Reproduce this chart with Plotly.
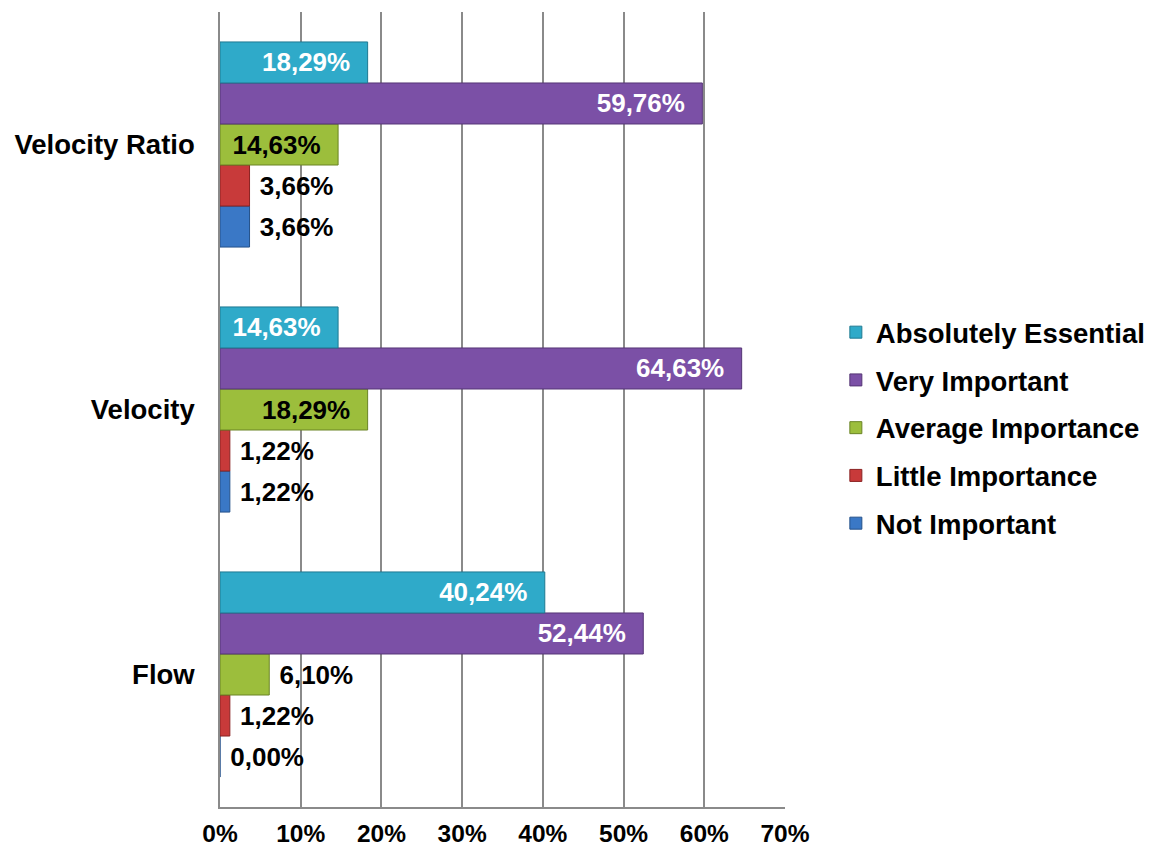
import plotly.graph_objects as go

categories = ["Flow", "Velocity", "Velocity Ratio"]
series_names = ["Not Important", "Little Importance", "Average Importance",
                "Very Important", "Absolutely Essential"]
not_important = [0.00, 1.22, 3.66]
little_importance = [1.22, 1.22, 3.66]
average_importance = [6.10, 18.29, 14.63]
very_important = [52.44, 64.63, 59.76]
absolutely_essential = [40.24, 14.63, 18.29]
x_ticks = [0, 10, 20, 30, 40, 50, 60, 70]
x_tick_labels = ["0%", "10%", "20%", "30%", "40%", "50%", "60%", "70%"]

values = [not_important, little_importance, average_importance,
          very_important, absolutely_essential]
colors = ["#3A78C6", "#C83A3A", "#9CBE3C", "#7B50A6", "#2FAAC9"]
lines = ["#24518A", "#8A2222", "#6A8425", "#553575", "#1F7A92"]
ranks = [5, 4, 3, 2, 1]

FONT = "Liberation Sans, Arial, sans-serif"
NB = "\u00a0"

def fmt(v):
    return f"{v:.2f}".replace(".", ",") + "%"

fig = go.Figure()
for i, (name, vals) in enumerate(zip(series_names, values)):
    if i >= 3:
        pos = ["inside"] * len(vals)
        tcol = "white"
    elif i == 2:
        pos = ["inside" if v > 10 else "outside" for v in vals]
        tcol = "black"
    else:
        pos = ["outside"] * len(vals)
        tcol = "black"
    texts = [(fmt(v) + NB + NB) if p == "inside" else (NB + fmt(v))
             for v, p in zip(vals, pos)]
    fig.add_trace(go.Bar(
        y=categories, x=vals, name=name, orientation="h",
        marker=dict(color=colors[i], line=dict(color=lines[i], width=1)),
        text=texts, textposition=pos,
        insidetextanchor="end",
        insidetextfont=dict(color=tcol, size=26, family=FONT, weight="bold"),
        outsidetextfont=dict(color="black", size=26, family=FONT, weight="bold"),
        constraintext="none", cliponaxis=False,
        legendgroup=name, legendrank=ranks[i],
    ))

fig.update_layout(
    width=1152, height=851,
    margin=dict(l=220, r=367, t=12, b=44, autoexpand=False),
    barmode="group", bargap=0.226, bargroupgap=0,
    plot_bgcolor="white", paper_bgcolor="white",
    font=dict(family=FONT, size=27, color="black", weight="bold"),
    showlegend=True,
    legend=dict(
        x=1.09, y=0.477, xanchor="left", yanchor="middle",
        traceorder="grouped", tracegroupgap=9,
        font=dict(size=27.5, family=FONT, color="black", weight="bold"),
        itemwidth=30,
    ),
    xaxis=dict(
        range=[0, 70], tickvals=x_ticks, ticktext=x_tick_labels,
        showgrid=True, gridcolor="#8A8A8A", gridwidth=1.5,
        zeroline=False, showline=True, linecolor="#8A8A8A", linewidth=1.5,
        ticks="", ticklabelstandoff=4, automargin=False,
        tickfont=dict(size=24.5, family=FONT, weight="bold"),
    ),
    yaxis=dict(
        categoryorder="array", categoryarray=categories,
        showgrid=False, zeroline=False, showline=True,
        linecolor="#8A8A8A", linewidth=1.5, ticks="",
        ticklabelstandoff=18, automargin=False,
        tickfont=dict(size=27.5, family=FONT, weight="bold"),
    ),
)

fig.write_html("out.html")
